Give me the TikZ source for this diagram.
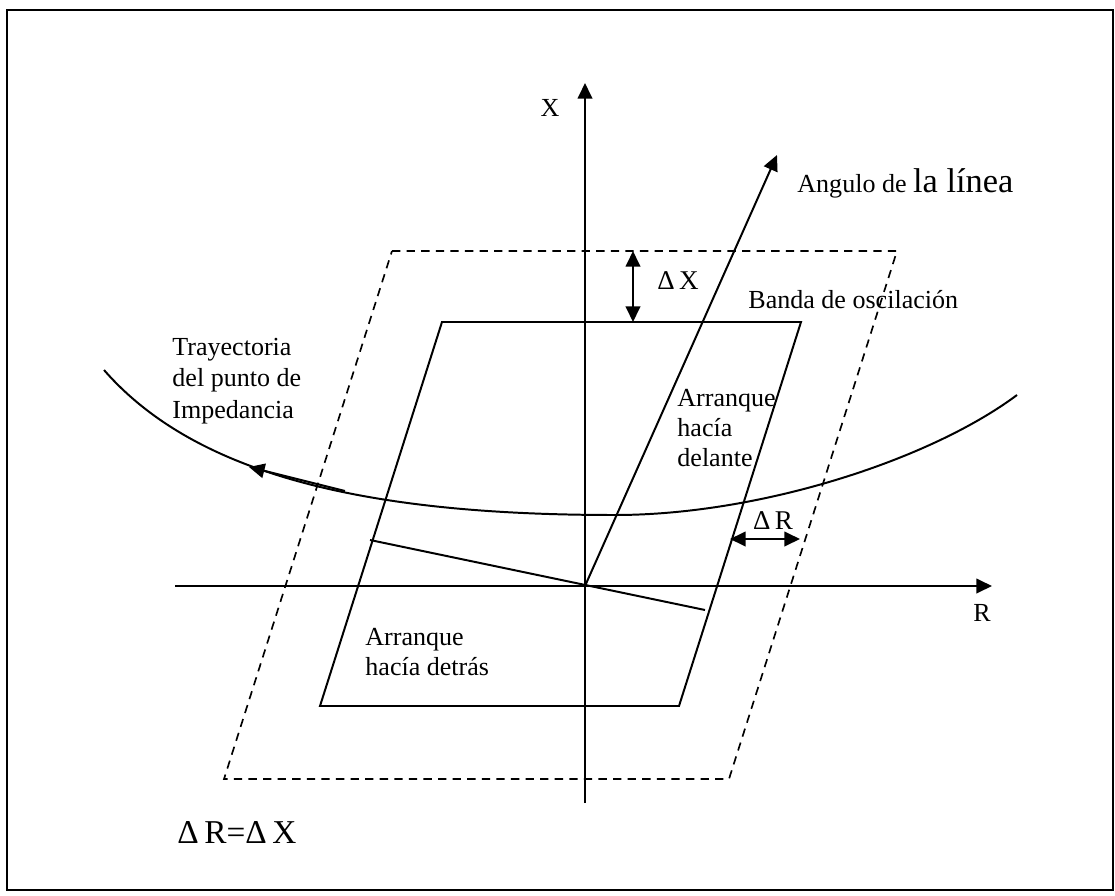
\documentclass[tikz,border=0pt]{standalone}
\usepackage{fontspec}
\setmainfont{Liberation Serif}
\usetikzlibrary{arrows.meta,positioning}
\tikzset{>={Triangle[length=7.5pt,width=7pt]}}
\tikzset{
  linea/.style={line width=0.95pt},
  banda/.style={line width=0.8pt, dash pattern=on 4pt off 3pt},
  etiqueta/.style={inner sep=0pt, font=\fontsize{12.5}{14.6}\selectfont, align=left},
  delta/.style={inner sep=0pt, font=\fontsize{13}{15}\selectfont},
}
\begin{document}
\begin{tikzpicture}[x=0.48pt,y=-0.48pt]
  \useasboundingbox (0,0) rectangle (1115,896);
  \draw [line width=1pt] (7,10) rectangle (1113,890);%
  % ejes R-X
  \coordinate (O) at (585,586);
  \draw [linea,->] (175,586) -- (992,586);%
  \draw [linea,->] (585,803) -- (585,83);%
  \node [etiqueta] (ejeX) at (550,108) {X};%
  \node [etiqueta] (ejeR) at (982,613) {R};%
  % banda de oscilacion y zona de arranque
  \draw [banda] (392,251) -- (897,251) -- (729,779) -- (224,779) -- cycle;%
  \draw [linea] (442,322) -- (801,322) -- (679,706) -- (320,706) -- cycle;%
  % angulo de la linea
  \draw [linea,->] (O) -- (777,155);%
  \draw [linea] (370,540) -- (705,610);%
  \node [etiqueta, anchor=base west] (angulo) at (797,192)
    {Angulo de {\fontsize{16.5}{18}\selectfont la línea}};%
  % margenes
  \draw [linea,<->] (633,251) -- (633,322);%
  \node [delta] (dX) at (678,281) {Δ\,X};%
  \draw [linea,<->] (730,539) -- (800,539);%
  \node [delta] (dR) at (773,521) {Δ\,R};%
  \node [etiqueta, anchor=west] (banda) at (748,300) {Banda de oscilación};%
  % trayectoria de la impedancia
  \coordinate (Zmin) at (615,515);
  \draw [linea] (104,370) .. controls (200,480) and (380,515) .. (Zmin)
    .. controls (760,515) and (930,460) .. (1017,395);%
  \draw [linea,->] (345,491) -- (249,467);%
  \node [etiqueta, anchor=west] (tray) at (172,381)
    {Trayectoria\\[0.6pt]del punto de\\[0.6pt]Impedancia};%
  \node [etiqueta, anchor=west] (delante) at (677,428)
    {Arranque\\hacía\\delante};%
  \node [etiqueta, anchor=west] (detras) at (365,652)
    {Arranque\\hacía detrás};%
  \node [inner sep=0pt, anchor=west, font=\fontsize{16}{18}\selectfont]
    (igual) at (177,832) {Δ\,R=Δ\,X};%
\end{tikzpicture}
\end{document}
